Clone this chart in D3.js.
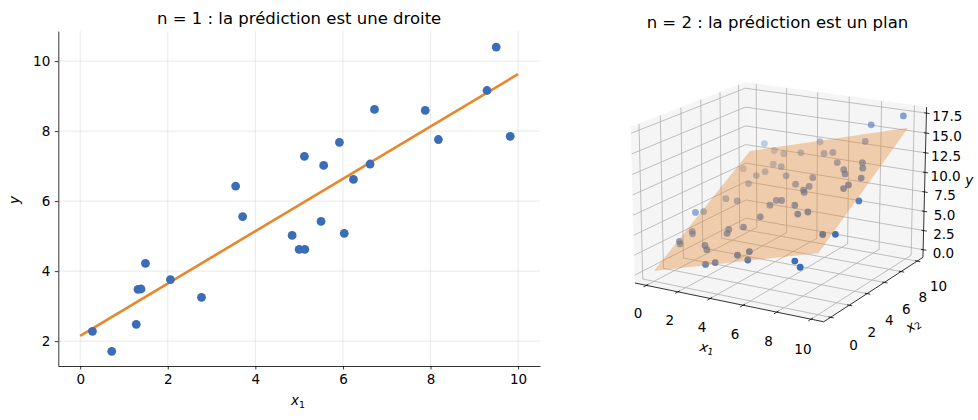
<!DOCTYPE html>
<html>
<head>
<meta charset="utf-8">
<script src="https://cdn.jsdelivr.net/npm/d3@7"></script>
<style>
  body { margin: 0; background: #fff; }
  svg { font-family: "DejaVu Sans", sans-serif; }
</style>
</head>
<body>
<svg id="chart" width="978" height="420"></svg>
<script>
// ---- n = 1 : simple regression ----
const xSimple = [0.28, 0.72, 1.28, 1.32, 1.39, 1.49, 2.06, 2.77, 3.55, 3.71, 4.84, 5.00, 5.13, 5.12, 5.50, 5.56, 5.92, 6.03, 6.24, 6.62, 6.72, 7.88, 8.18, 9.29, 9.50, 9.82];
const ySimple = [2.28, 1.71, 2.48, 3.48, 3.49, 4.22, 3.76, 3.25, 6.43, 5.56, 5.02, 4.62, 4.62, 7.28, 5.42, 7.02, 7.68, 5.08, 6.62, 7.06, 8.62, 8.59, 7.76, 9.16, 10.40, 7.85];
const fitX = [0, 10];
const fitY = [2.15, 9.63];

// ---- n = 2 : two features ----
const x1Multi = [1.20, 1.79, 2.66, 3.86, 0.55, 2.51, 3.22, 2.34, 1.92, 4.07, 1.81, 6.02, 5.18, 6.23, 6.03, 6.20, 1.03, 1.98, 4.70, 5.07, 4.51, 6.21, 6.85, 7.42, 4.46, 0.20, 0.16, 4.63, 5.54, 6.11, 7.77, 7.91, 9.80, 6.93, 8.63, 8.92, 7.73, 8.03, 9.29, 8.64, 8.78, 9.86, 0.48, 0.65, 2.96, 3.06, 3.85, 0.14, 0.33, 2.18, 2.54, 4.90, 5.51, 5.82, 3.23, 3.78, 8.47, 8.84, 9.43, 9.95];
const x2Multi = [9.60, 9.69, 9.25, 9.08, 8.34, 8.35, 8.01, 7.73, 7.48, 7.07, 6.82, 6.56, 6.17, 5.79, 5.53, 5.31, 5.68, 5.33, 4.91, 4.85, 4.56, 4.27, 3.46, 3.53, 3.63, 3.86, 4.75, 9.89, 8.70, 8.66, 9.29, 9.70, 9.80, 7.65, 7.32, 6.81, 6.90, 6.49, 5.93, 5.19, 5.47, 4.60, 3.07, 2.84, 2.85, 2.51, 2.90, 2.31, 2.08, 1.68, 1.30, 0.55, 0.74, 0.06, 0.07, 0.14, 0.30, 0.20, 1.48, 1.88];
const yMulti = [11.34, 10.56, 10.66, 11.23, 8.52, 9.73, 9.83, 9.04, 8.55, 9.46, 7.86, 10.16, 9.28, 9.57, 9.20, 9.10, 6.31, 6.55, 7.81, 7.97, 7.36, 8.12, 7.74, 8.16, 6.45, 5.34, 4.89, 12.47, 11.89, 12.21, 13.80, 15.73, 17.35, 11.75, 12.46, 12.16, 11.53, 11.33, 11.56, 10.47, 10.81, 9.73, 3.51, 3.40, 4.80, 4.55, 5.39, 2.59, 2.48, 3.24, 3.10, 3.82, 4.37, 3.91, 2.35, 2.75, 4.65, 4.12, 7.45, 7.40];
const planeCoef = [0.32, 0.607, 0.944];   // y = b0 + b1*x1 + b2*x2
const planeX1 = [0, 10];
const planeX2 = [0, 10];

const ticksX = [0, 2, 4, 6, 8, 10];
const ticksY = [2, 4, 6, 8, 10];
const ticksZ = [0, 2.5, 5, 7.5, 10, 12.5, 15, 17.5];

const BLUE = "#3a6db5", ORANGE = "#e6872b";
const TICK_FS = 13.5, TITLE_FS = 16.5;

const svg = d3.select("#chart");

// ================= left panel =================
const L = {left: 58.3, right: 540, top: 31, bottom: 366};
const x = d3.scaleLinear().domain([-0.5, 10.5]).range([L.left, L.right]);
const y = d3.scaleLinear().domain([1.29, 10.86]).range([L.bottom, L.top]);
const left = svg.append("g");

left.append("g").selectAll("line").data(ticksX).join("line")
    .attr("x1", d => x(d)).attr("x2", d => x(d))
    .attr("y1", L.top).attr("y2", L.bottom)
    .attr("stroke", "#b0b0b0").attr("stroke-opacity", 0.35).attr("stroke-width", 0.8);
left.append("g").selectAll("line").data(ticksY).join("line")
    .attr("y1", d => y(d)).attr("y2", d => y(d))
    .attr("x1", L.left).attr("x2", L.right)
    .attr("stroke", "#b0b0b0").attr("stroke-opacity", 0.35).attr("stroke-width", 0.8);

left.append("path")
    .datum(d3.zip(fitX, fitY))
    .attr("d", d3.line().x(d => x(d[0])).y(d => y(d[1])))
    .attr("fill", "none").attr("stroke", ORANGE).attr("stroke-width", 2.6);

left.append("g").selectAll("circle").data(d3.zip(xSimple, ySimple)).join("circle")
    .attr("cx", d => x(d[0])).attr("cy", d => y(d[1])).attr("r", 4.4)
    .attr("fill", BLUE);

const xAxis = left.append("g").attr("transform", `translate(0,${L.bottom})`)
    .call(d3.axisBottom(x).tickValues(ticksX).tickFormat(d3.format("d"))
        .tickSize(3.5).tickSizeOuter(0).tickPadding(4.5));
const yAxis = left.append("g").attr("transform", `translate(${L.left},0)`)
    .call(d3.axisLeft(y).tickValues(ticksY).tickFormat(d3.format("d"))
        .tickSize(3.5).tickSizeOuter(0).tickPadding(4.5));
[xAxis, yAxis].forEach(a => {
  a.attr("font-family", null).attr("font-size", TICK_FS);
  a.selectAll("path,line").attr("stroke", "#000").attr("stroke-width", 0.8);
  a.selectAll("text").attr("fill", "#000");
});

left.append("text").attr("x", (L.left + L.right) / 2).attr("y", 24)
    .attr("text-anchor", "middle").attr("font-size", TITLE_FS)
    .text("n = 1 : la prédiction est une droite");

const xl = left.append("text").attr("x", 298).attr("y", 405)
    .attr("text-anchor", "middle").attr("font-size", TICK_FS);
xl.append("tspan").attr("font-style", "italic").text("x");
xl.append("tspan").attr("font-size", TICK_FS * 0.7).attr("dy", 3).text("1");

left.append("text").attr("transform", "translate(19,200) rotate(-90)")
    .attr("text-anchor", "middle").attr("font-size", TICK_FS)
    .attr("font-style", "italic").text("y");

// ================= right panel (3D) =================
const lim1 = [-0.5, 10.5], lim2 = [-0.5, 10.5], limZ = [-0.62, 17.87];
const elev = 17, azim = -60, camDist = 10;

const aspectRaw = [4, 4, 3];
const aNorm = Math.hypot(...aspectRaw);
const boxAspect = aspectRaw.map(v => v * 1.8294640721620434 / aNorm);

const w1 = d3.scaleLinear().domain(lim1).range([0, boxAspect[0]]);
const w2 = d3.scaleLinear().domain(lim2).range([0, boxAspect[1]]);
const wz = d3.scaleLinear().domain(limZ).range([0, boxAspect[2]]);

// 2D placement of the projected view
const ax3 = {left: 611.6, top: 33, size: 331.7};
const sx = d3.scaleLinear().domain([-0.095, 0.09]).range([ax3.left, ax3.left + ax3.size]);
const sy = d3.scaleLinear().domain([-0.095, 0.09]).range([ax3.top + ax3.size, ax3.top]);

const dot = (a, b) => a[0] * b[0] + a[1] * b[1] + a[2] * b[2];
const cross = (a, b) => [a[1] * b[2] - a[2] * b[1], a[2] * b[0] - a[0] * b[2], a[0] * b[1] - a[1] * b[0]];
const unit = a => { const n = Math.hypot(...a); return a.map(v => v / n); };

const er = elev * Math.PI / 180, ar = azim * Math.PI / 180;
const ps = [Math.cos(er) * Math.cos(ar), Math.cos(er) * Math.sin(ar), Math.sin(er)];
const centre = boxAspect.map(v => v / 2);
const eye = centre.map((c, i) => c + camDist * ps[i]);
const vw = unit(ps);
const vu = unit(cross([0, 0, 1], vw));
const vv = cross(vw, vu);

function project(a, b, c) {
  const p = [w1(a), w2(b), wz(c)];
  const d = p.map((q, i) => q - eye[i]);
  const zv = dot(vw, d);
  return [sx(dot(vu, d) / -zv), sy(dot(vv, d) / -zv), -zv];
}

const padded = l => { const d = (l[1] - l[0]) / 48; return [l[0] - d, l[1] + d]; };
const [a0, a1] = padded(lim1), [b0, b1] = padded(lim2), [c0, c1] = padded(limZ);
const del1 = (lim1[1] - lim1[0]) / 12, del2 = (lim2[1] - lim2[0]) / 12, delZ = (limZ[1] - limZ[0]) / 12;

const right = svg.append("g");
const line3 = pts => "M" + pts.map(p => project(...p).slice(0, 2).join(",")).join("L");

// panes
const panes = [
  [[a0, b0, c0], [a1, b0, c0], [a1, b1, c0], [a0, b1, c0]],
  [[a0, b0, c0], [a0, b1, c0], [a0, b1, c1], [a0, b0, c1]],
  [[a0, b1, c0], [a1, b1, c0], [a1, b1, c1], [a0, b1, c1]]
];
right.append("g").selectAll("path").data(panes).join("path")
    .attr("d", d => line3(d) + "Z")
    .attr("fill", "#f2f2f2").attr("fill-opacity", 0.75)
    .attr("stroke", "#f2f2f2").attr("stroke-width", 0.5);

// grid lines
const grid = [];
ticksX.forEach(t => grid.push([[t, b0, c0], [t, b1, c0], [t, b1, c1]]));
ticksX.forEach(t => grid.push([[a1, t, c0], [a0, t, c0], [a0, t, c1]]));
ticksZ.forEach(t => grid.push([[a1, b1, t], [a0, b1, t], [a0, b0, t]]));
right.append("g").selectAll("path").data(grid).join("path")
    .attr("d", line3).attr("fill", "none")
    .attr("stroke", "#b0b0b0").attr("stroke-width", 0.8);

// axis lines, ticks, labels
const axes3 = [
  {ticks: ticksX, at: t => [t, b0, c0], line: [[a0, b0, c0], [a1, b0, c0]],
   tickDir: [0, -1, 0], lab: t => [t, b0 - 0.9 * del2, c0 - 1.9 * delZ],
   fmt: d3.format("d"), title: [5, b0 - 2.1 * del2, c0 - 2.7 * delZ], name: "x", sub: "1", rot: true},
  {ticks: ticksX, at: t => [a1, t, c0], line: [[a1, b0, c0], [a1, b1, c0]],
   tickDir: [1, 0, 0], lab: t => [a1 + 1.45 * del1, t, c0 - 1.8 * delZ],
   fmt: d3.format("d"), title: [a1 + 2.4 * del1, 5, c0 - 2.4 * delZ], name: "x", sub: "2", rot: true},
  {ticks: ticksZ, at: t => [a1, b1, t], line: [[a1, b1, c0], [a1, b1, c1]],
   tickDir: [1, 0, 0], lab: t => [a1 + 1.35 * del1, b1, t],
   fmt: d3.format(".1f"), title: [a1 + 2.0 * del1, b1 + 2.0 * del2, (limZ[0] + limZ[1]) / 2], name: "y", sub: null, rot: false}
];

axes3.forEach(axd => {
  const g = right.append("g");
  g.append("path").attr("d", line3(axd.line)).attr("stroke", "#000").attr("stroke-width", 0.8).attr("fill", "none");
  axd.ticks.forEach(t => {
    const p = project(...axd.at(t));
    const q = project(...axd.at(t).map((v, i) => v + axd.tickDir[i]));
    const dx = q[0] - p[0], dy = q[1] - p[1], n = Math.hypot(dx, dy);
    g.append("line")
        .attr("x1", p[0] - dx / n * 2.2).attr("y1", p[1] - dy / n * 2.2)
        .attr("x2", p[0] + dx / n * 3.2).attr("y2", p[1] + dy / n * 3.2)
        .attr("stroke", "#000").attr("stroke-width", 0.8);
    const lp = project(...axd.lab(t));
    g.append("text").attr("x", lp[0]).attr("y", lp[1])
        .attr("text-anchor", "middle").attr("dominant-baseline", "central")
        .attr("font-size", TICK_FS).text(axd.fmt(t));
  });
  const e0 = project(...axd.line[0]), e1 = project(...axd.line[1]);
  const ang = axd.rot ? Math.atan2(e1[1] - e0[1], e1[0] - e0[0]) * 180 / Math.PI : 0;
  const tp = project(...axd.title);
  const tt = g.append("text")
      .attr("transform", `translate(${tp[0]},${tp[1]}) rotate(${ang})`)
      .attr("text-anchor", "middle").attr("dominant-baseline", "central")
      .attr("font-size", TICK_FS);
  tt.append("tspan").attr("font-style", "italic").text(axd.name);
  if (axd.sub) tt.append("tspan").attr("font-size", TICK_FS * 0.7).attr("dy", 3).text(axd.sub);
});

// scatter with depth shading
const pts3 = x1Multi.map((a, i) => {
  const p = project(a, x2Multi[i], yMulti[i]);
  return {px: p[0], py: p[1], depth: p[2]};
});
const depthNorm = d3.scaleLinear().domain(d3.extent(pts3, d => d.depth)).range([0, 1]);
pts3.sort((a, b) => b.depth - a.depth);
right.append("g").selectAll("circle").data(pts3).join("circle")
    .attr("cx", d => d.px).attr("cy", d => d.py).attr("r", 3.4)
    .attr("fill", BLUE).attr("fill-opacity", d => 1 - 0.7 * depthNorm(d.depth));

// regression plane
const planeZ = (a, b) => planeCoef[0] + planeCoef[1] * a + planeCoef[2] * b;
const planeCorners = [
  [planeX1[0], planeX2[0]], [planeX1[1], planeX2[0]],
  [planeX1[1], planeX2[1]], [planeX1[0], planeX2[1]]
].map(([a, b]) => [a, b, planeZ(a, b)]);
right.append("path").attr("d", line3(planeCorners) + "Z")
    .attr("fill", ORANGE).attr("fill-opacity", 0.36).attr("stroke", "none");

right.append("text").attr("x", ax3.left + ax3.size * 0.5).attr("y", 28)
    .attr("text-anchor", "middle").attr("font-size", TITLE_FS)
    .text("n = 2 : la prédiction est un plan");
</script>
</body>
</html>
